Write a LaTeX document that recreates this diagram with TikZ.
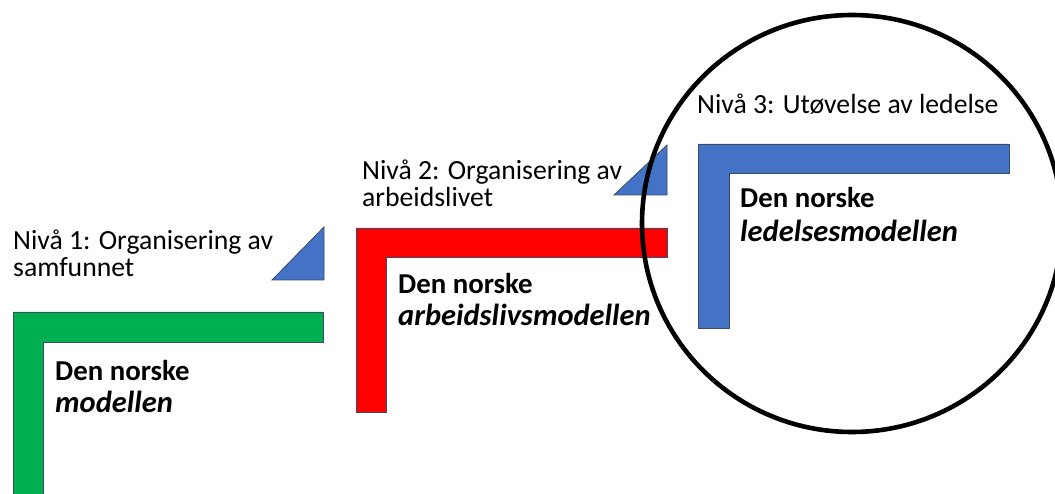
\documentclass[tikz,border=0pt]{standalone}
\usepackage{fontspec}
\setmainfont{Carlito}
\definecolor{pgreen}{HTML}{00B050}
\definecolor{pred}{HTML}{FF0000}
\definecolor{pblue}{HTML}{4472C4}
\definecolor{edge}{HTML}{3A4A6A}
\begin{document}
\begin{tikzpicture}[x=1pt,y=-1pt,
  lshape/.style={draw=edge, line width=0.8pt},
  tri/.style={fill=pblue, draw=edge, line width=0.8pt},
  lvl/.style={anchor=base west, inner sep=0pt, font=\fontsize{27.7}{26}\selectfont},
  mdl/.style={anchor=base west, inner sep=0pt, font=\fontsize{28.8}{32}\selectfont\bfseries},
  mdli/.style={anchor=base west, inner sep=0pt, font=\fontsize{30.5}{32}\selectfont\bfseries\itshape},
  ring/.style={draw=black, line width=4.6pt}]
\useasboundingbox (0,0) rectangle (1055,494);
\clip (0,0) rectangle (1055,494);
% Level 1
\draw[lshape, fill=pgreen] (13,312) -- (323,312) -- (323,342) -- (43,342) -- (43,500) -- (13,500) -- cycle;
\draw[tri] (272,280) -- (324,227) -- (324,280) -- cycle;
\node[lvl] (n1a) at (13,250) {Nivå 1: Organisering av};
\node[lvl] (n1b) at (13,277) {samfunnet};
\node[mdl] (m1a) at (55,380) {Den norske};
\node[mdli] (m1b) at (55,412) {modellen};
% Level 2
\draw[lshape, fill=pred] (356,228) -- (667,228) -- (667,257) -- (386,257) -- (386,412) -- (356,412) -- cycle;
\draw[tri] (614,195) -- (667,145) -- (667,195) -- cycle;
\node[lvl] (n2a) at (362,180) {Nivå 2: Organisering av};
\node[lvl] (n2b) at (362,207) {arbeidslivet};
\node[mdl] (m2a) at (398,294) {Den norske};
\node[mdli] (m2b) at (398,326) {arbeidslivsmodellen};
% Level 3
\draw[lshape, fill=pblue] (698,144) -- (1009,144) -- (1009,173) -- (729,173) -- (729,328) -- (698,328) -- cycle;
\node[lvl] (n3a) at (697,114) {Nivå 3: Utøvelse av ledelse};
\node[mdl] (m3a) at (740,208) {Den norske};
\node[mdli] (m3b) at (740,242) {ledelsesmodellen};
% Circle
\draw[ring] (852,223.5) ellipse [x radius=210, y radius=208.5];
\end{tikzpicture}
\end{document}
